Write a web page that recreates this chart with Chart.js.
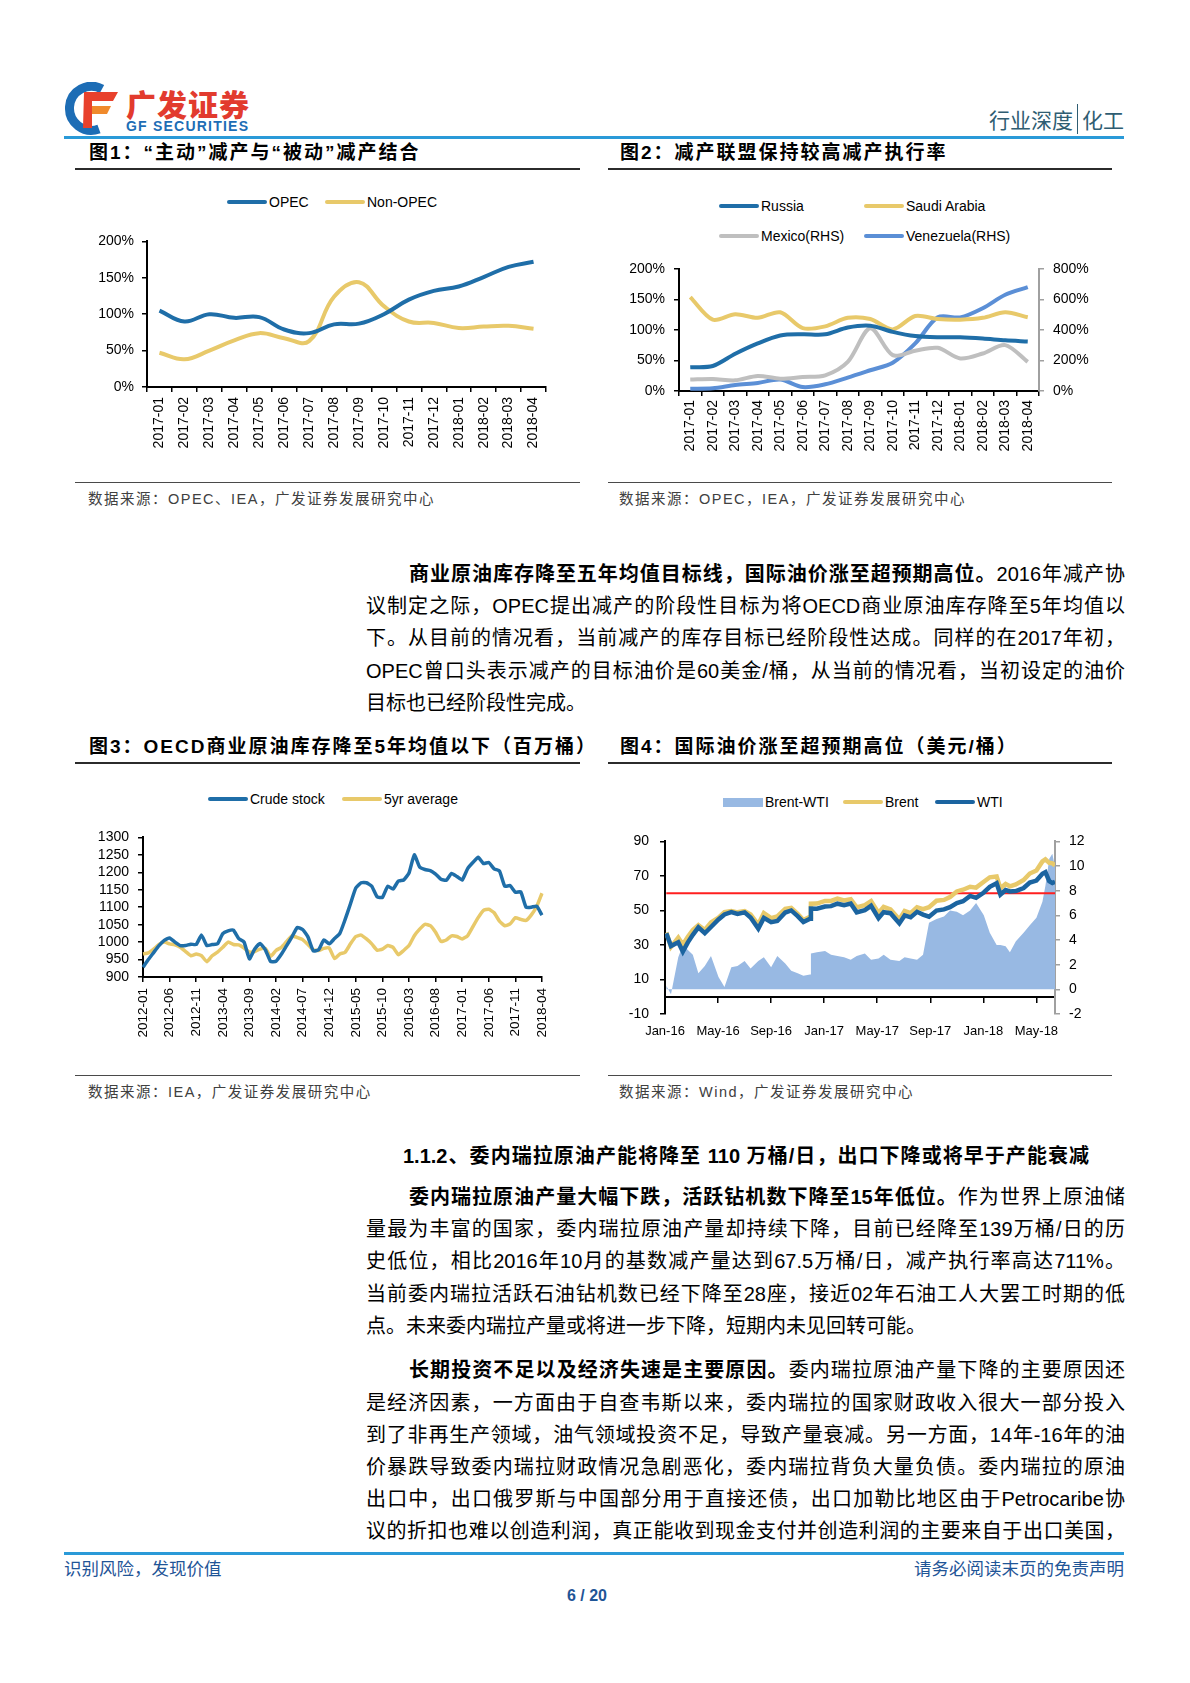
<!DOCTYPE html>
<html lang="zh-CN">
<head>
<meta charset="utf-8">
<title>行业深度 | 化工</title>
<script src="https://cdn.jsdelivr.net/npm/chart.js@4.4.1/dist/chart.umd.min.js"></script>
<style>
  html, body { margin: 0; padding: 0; background: #fff; }
  #page { position: relative; width: 1190px; height: 1683px; overflow: hidden; color: #000;
          font-family: "Liberation Sans", Arial, "Noto Sans CJK SC", sans-serif; }
  .abs { position: absolute; }
  .blue-rule { position: absolute; left: 64px; width: 1060px; height: 3px; background: #2a9ad8; }
  .fig-title { position: absolute; font-size: 19px; font-weight: 700; letter-spacing: 2px; line-height: 24px; white-space: nowrap; }
  .fig-rule { position: absolute; height: 2px; background: #2b2b2b; }
  .src-rule { position: absolute; height: 1px; background: #4a4a4a; }
  .src { position: absolute; font-size: 14.5px; letter-spacing: 1.5px; color: #404040; line-height: 20px; white-space: nowrap; }
  .legend-text { position: absolute; font-family: "Liberation Sans Narrow", "Arial Narrow", "Liberation Sans", Arial, sans-serif;
                 font-size: 14px; line-height: 20px; white-space: nowrap; }
  .line { position: absolute; left: 366px; width: 759px; height: 32px; line-height: 32px; font-size: 20px;
          text-align: justify; text-align-last: justify; }
  .line.first { padding-left: 43px; width: 716px; }
  .line.last { text-align-last: left; }
  .foot { position: absolute; font-size: 17.5px; color: #1f5597; line-height: 22px; white-space: nowrap; }
</style>
</head>
<body>
<div id="page">
  <!-- header -->
  <svg class="abs" style="left:62px;top:82px" width="192" height="56" viewBox="0 0 192 56">
    <path d="M40 7 A22 22 0 1 0 37 47" fill="none" stroke="#1d6db5" stroke-width="9"/>
    <path d="M22 10 L56 10 L51 19 L30 19 L30 46 L21 46 Z" fill="#e8412c"/>
    <path d="M30 24 L49 24 L45 32 L30 32 Z" fill="#f08a2c"/>
    <text x="64" y="34" font-size="30" font-weight="900" fill="#e23b2e" textLength="123"
          font-family="Noto Sans CJK SC">广发证券</text>
    <text x="64" y="49" font-size="14" font-weight="700" fill="#1d6db5" textLength="122"
          font-family="Liberation Sans, Arial">GF SECURITIES</text>
  </svg>
  <div class="abs" style="right:66px;top:106px;font-size:21px;line-height:26px;color:#2f5d72;font-family:'Noto Sans CJK SC';">
    行业深度<span style="border-left:1.5px solid #2f5d72;margin:0 4px;"></span>化工</div>
  <div class="blue-rule" style="top:136px"></div>

  <div class="fig-title" style="left:89px;top:141px">图1：“主动”减产与“被动”减产结合</div>
  <div class="fig-title" style="left:620px;top:141px">图2：减产联盟保持较高减产执行率</div>
  <div class="fig-rule" style="left:75px;top:168px;width:505px"></div>
  <div class="fig-rule" style="left:608px;top:168px;width:504px"></div>

  <canvas id="chartOpec" class="abs" style="left:75px;top:225px" width="505" height="240"></canvas>
  <canvas id="chartAlliance" class="abs" style="left:606px;top:250px" width="510" height="215"></canvas>

  <div class="src-rule" style="left:75px;top:482px;width:505px"></div>
  <div class="src-rule" style="left:608px;top:482px;width:504px"></div>
  <div class="src" style="left:88px;top:489px">数据来源：OPEC、IEA，广发证券发展研究中心</div>
  <div class="src" style="left:619px;top:489px">数据来源：OPEC，IEA，广发证券发展研究中心</div>

  <div class="line first" style="top:558px"><b>商业原油库存降至五年均值目标线，国际油价涨至超预期高位。</b>2016年减产协</div>
  <div class="line" style="top:590px">议制定之际，OPEC提出减产的阶段性目标为将OECD商业原油库存降至5年均值以</div>
  <div class="line" style="top:622px">下。从目前的情况看，当前减产的库存目标已经阶段性达成。同样的在2017年初，</div>
  <div class="line" style="top:655px">OPEC曾口头表示减产的目标油价是60美金/桶，从当前的情况看，当初设定的油价</div>
  <div class="line last" style="top:687px">目标也已经阶段性完成。</div>

  <div class="fig-title" style="left:89px;top:735px">图3：OECD商业原油库存降至5年均值以下（百万桶）</div>
  <div class="fig-title" style="left:620px;top:735px">图4：国际油价涨至超预期高位（美元/桶）</div>
  <div class="fig-rule" style="left:75px;top:762px;width:505px"></div>
  <div class="fig-rule" style="left:608px;top:762px;width:504px"></div>

  <canvas id="chartStock" class="abs" style="left:75px;top:820px" width="505" height="240"></canvas>
  <canvas id="chartPrice" class="abs" style="left:606px;top:822px" width="510" height="228"></canvas>

  <div class="src-rule" style="left:75px;top:1075px;width:505px"></div>
  <div class="src-rule" style="left:608px;top:1075px;width:504px"></div>
  <div class="src" style="left:88px;top:1082px">数据来源：IEA，广发证券发展研究中心</div>
  <div class="src" style="left:619px;top:1082px">数据来源：Wind，广发证券发展研究中心</div>

  <div class="line" style="left:403px;width:686px;top:1140px;font-weight:700">1.1.2、委内瑞拉原油产能将降至 110 万桶/日，出口下降或将早于产能衰减</div>

  <div class="line first" style="top:1181px"><b>委内瑞拉原油产量大幅下跌，活跃钻机数下降至15年低位。</b>作为世界上原油储</div>
  <div class="line" style="top:1213px">量最为丰富的国家，委内瑞拉原油产量却持续下降，目前已经降至139万桶/日的历</div>
  <div class="line" style="top:1245px">史低位，相比2016年10月的基数减产量达到67.5万桶/日，减产执行率高达711%。</div>
  <div class="line" style="top:1278px">当前委内瑞拉活跃石油钻机数已经下降至28座，接近02年石油工人大罢工时期的低</div>
  <div class="line last" style="top:1310px">点。未来委内瑞拉产量或将进一步下降，短期内未见回转可能。</div>

  <div class="line first" style="top:1354px"><b>长期投资不足以及经济失速是主要原因。</b>委内瑞拉原油产量下降的主要原因还</div>
  <div class="line" style="top:1387px">是经济因素，一方面由于自查韦斯以来，委内瑞拉的国家财政收入很大一部分投入</div>
  <div class="line" style="top:1419px">到了非再生产领域，油气领域投资不足，导致产量衰减。另一方面，14年-16年的油</div>
  <div class="line" style="top:1451px">价暴跌导致委内瑞拉财政情况急剧恶化，委内瑞拉背负大量负债。委内瑞拉的原油</div>
  <div class="line" style="top:1483px">出口中，出口俄罗斯与中国部分用于直接还债，出口加勒比地区由于Petrocaribe协</div>
  <div class="line" style="top:1515px">议的折扣也难以创造利润，真正能收到现金支付并创造利润的主要来自于出口美国，</div>

  <!-- footer -->
  <div class="blue-rule" style="top:1552px"></div>
  <div class="foot" style="left:64px;top:1558px">识别风险，发现价值</div>
  <div class="foot" style="right:66px;top:1558px">请务必阅读末页的免责声明</div>
  <div class="foot" style="left:0;width:1174px;text-align:center;top:1585px;font-weight:700;font-size:16px">6 / 20</div>
</div>

<script>
// ---------- data ----------
const opecMonths = ['2017-01', '2017-02', '2017-03', '2017-04', '2017-05', '2017-06', '2017-07', '2017-08',
    '2017-09', '2017-10', '2017-11', '2017-12', '2018-01', '2018-02', '2018-03', '2018-04'];
const opecRate = [105, 90, 100, 95, 96, 79, 74, 86, 87, 100, 120, 132, 138, 151, 165, 172];
const nonOpecRate = [47, 38, 50, 64, 74, 67, 63, 124, 144, 111, 90, 88, 81, 83, 84, 80];

const russiaRate = [39, 41, 61, 78, 91, 93, 93, 104, 107, 97, 90, 88, 88, 86, 83, 81];
const saudiRate = [154, 117, 126, 120, 129, 103, 106, 120, 118, 101, 123, 118, 117, 120, 129, 121];
const mexicoRate = [75, 79, 70, 99, 81, 92, 103, 191, 411, 235, 264, 283, 213, 246, 301, 191];
const venezuelaRate = [15, 18, 40, 53, 75, 26, 44, 88, 136, 185, 312, 483, 483, 543, 631, 681];

const stockMonths = [
    '2012-01', '2012-02', '2012-03', '2012-04', '2012-05', '2012-06', '2012-07', '2012-08', '2012-09', '2012-10', '2012-11', '2012-12',
    '2013-01', '2013-02', '2013-03', '2013-04', '2013-05', '2013-06', '2013-07', '2013-08', '2013-09', '2013-10', '2013-11', '2013-12',
    '2014-01', '2014-02', '2014-03', '2014-04', '2014-05', '2014-06', '2014-07', '2014-08', '2014-09', '2014-10', '2014-11', '2014-12',
    '2015-01', '2015-02', '2015-03', '2015-04', '2015-05', '2015-06', '2015-07', '2015-08', '2015-09', '2015-10', '2015-11', '2015-12',
    '2016-01', '2016-02', '2016-03', '2016-04', '2016-05', '2016-06', '2016-07', '2016-08', '2016-09', '2016-10', '2016-11', '2016-12',
    '2017-01', '2017-02', '2017-03', '2017-04', '2017-05', '2017-06', '2017-07', '2017-08', '2017-09', '2017-10', '2017-11', '2017-12',
    '2018-01', '2018-02', '2018-03', '2018-04'];
const crudeStock = [
    928, 950, 970, 990, 1005, 1012, 1000, 990, 990, 994, 993, 1020,
    990, 993, 995, 1024, 1032, 1034, 1010, 1000, 952, 980, 996, 978,
    944, 945, 965, 990, 1015, 1042, 1036, 1015, 975, 978, 1006, 995,
    1010, 1025, 1065, 1110, 1155, 1170, 1170, 1160, 1130, 1128, 1160, 1152,
    1175, 1178, 1198, 1250, 1215, 1208, 1205, 1195, 1180, 1177, 1197, 1188,
    1178, 1210, 1228, 1243, 1225, 1228, 1210, 1204, 1160, 1162, 1143, 1144,
    1100, 1100, 1103, 1077];
const fiveYearAvg = [
    966, 969, 980, 993, 1000, 995, 992, 985, 973, 961, 966, 961,
    944, 961, 971, 985, 1000, 993, 992, 983, 971, 973, 980, 982,
    959, 976, 985, 1002, 1018, 1013, 1007, 993, 978, 976, 982, 983,
    953, 966, 971, 995, 1016, 1020, 1009, 995, 977, 980, 990, 985,
    964, 976, 990, 1018, 1037, 1051, 1047, 1028, 1002, 1006, 1018, 1016,
    1009, 1018, 1044, 1070, 1091, 1094, 1084, 1060, 1047, 1052, 1070, 1065,
    1062, 1078, 1102, 1140];
const stockTickEvery = 5;

const oilDates = [
    '2016-01-04', '2016-01-15', '2016-02-01', '2016-02-11', '2016-02-22', '2016-03-04', '2016-03-17', '2016-04-01',
    '2016-04-15', '2016-05-02', '2016-05-16', '2016-06-01', '2016-06-15', '2016-07-01', '2016-07-15', '2016-08-02',
    '2016-08-15', '2016-09-01', '2016-09-15', '2016-10-03', '2016-10-17', '2016-11-01', '2016-11-14', '2016-11-29',
    '2016-12-01', '2016-12-15',
    '2017-01-03', '2017-01-17', '2017-02-01', '2017-02-15', '2017-03-01', '2017-03-15', '2017-04-03', '2017-04-17',
    '2017-05-04', '2017-05-16', '2017-06-01', '2017-06-21', '2017-07-03', '2017-07-17', '2017-08-01', '2017-08-15',
    '2017-08-29', '2017-09-15', '2017-10-02', '2017-10-16', '2017-11-01', '2017-11-15', '2017-12-01', '2017-12-15',
    '2018-01-02', '2018-01-16', '2018-02-01', '2018-02-09', '2018-02-20', '2018-03-01', '2018-03-15', '2018-04-02',
    '2018-04-16', '2018-05-01', '2018-05-15', '2018-05-22', '2018-05-31', '2018-06-07', '2018-06-13'];
const brentPrice = [
    37.2, 28.9, 34.2, 30.1, 34.7, 38.7, 41.5, 38.7, 43.1, 45.8, 49.0, 49.7, 48.9, 49.6, 47.6, 41.8,
    48.4, 45.5, 46.6, 50.9, 51.5, 48.1, 44.4, 46.4, 53.9, 54.0,
    55.5, 55.5, 56.8, 55.8, 56.5, 51.8, 53.1, 55.4, 48.5, 52.0, 50.6, 44.8, 49.7, 48.4, 51.8, 50.8,
    51.9, 55.6, 56.1, 57.8, 61.0, 62.0, 63.7, 63.2,
    66.6, 69.2, 69.7, 62.8, 65.3, 64.0, 65.1, 67.6, 71.4, 73.1, 78.4, 79.6, 77.6, 77.3, 76.0];
const wtiPrice = [
    36.8, 29.4, 31.6, 26.2, 31.5, 35.9, 40.2, 36.8, 40.4, 44.8, 47.7, 49.0, 48.0, 48.9, 45.9, 39.5,
    45.7, 43.2, 43.9, 48.8, 50.0, 46.7, 43.3, 45.2, 51.1, 51.0,
    52.3, 52.5, 53.9, 53.1, 54.0, 48.9, 50.2, 52.7, 45.5, 49.0, 48.4, 42.5, 47.1, 46.0, 49.2, 47.6,
    46.4, 49.9, 50.6, 51.9, 54.3, 55.3, 58.4, 57.3,
    60.4, 63.7, 65.8, 59.2, 61.8, 61.0, 61.2, 63.0, 66.2, 67.3, 71.3, 72.2, 67.0, 65.9, 66.6];
const brentWtiSpread = [
    0.3, -0.4, 2.6, 3.6, 3.2, 2.8, 1.3, 1.9, 2.7, 1.0, 0.2, 1.8, 1.9, 2.3, 1.7, 2.3,
    2.6, 1.8, 2.7, 2.1, 1.5, 1.3, 1.1, 1.2, 2.9, 3.0,
    3.1, 2.8, 2.7, 2.6, 2.4, 2.7, 2.9, 2.4, 2.5, 2.8, 2.4, 2.3, 2.6, 2.5, 2.4, 2.8,
    5.4, 5.7, 5.9, 6.4, 6.3, 6.0, 6.4, 7.0,
    6.0, 4.6, 3.6, 3.6, 3.5, 3.0, 3.9, 4.6, 5.2, 5.8, 7.1, 8.4, 10.6, 11.0, 9.9];
const targetPrice = 60;
const priceTickDates = ['2016-01-01', '2016-05-01', '2016-09-01', '2017-01-01', '2017-05-01', '2017-09-01', '2018-01-01', '2018-05-01'];
const priceTickLabels = ['Jan-16', 'May-16', 'Sep-16', 'Jan-17', 'May-17', 'Sep-17', 'Jan-18', 'May-18'];

// ---------- styles ----------
const DARK_BLUE = '#1f6ea8';
const YELLOW = '#e8c96a';
const GRAY = '#bfbfbf';
const LIGHT_BLUE = '#5b8fd6';
const AREA_BLUE = '#98b9e3';
const RED = '#ff1f1f';
const AXIS_GRAY = '#a0a0a0';

Chart.defaults.font.family = '"Liberation Sans Narrow", "Arial Narrow", "Liberation Sans", Arial, sans-serif';
Chart.defaults.color = '#000';
Chart.defaults.animation = false;
Chart.defaults.responsive = false;
Chart.defaults.devicePixelRatio = 1;
Chart.defaults.plugins.legend.display = false;
Chart.defaults.plugins.tooltip.enabled = false;
Chart.defaults.elements.point.radius = 0;

const pct = v => v + '%';
const plain = v => String(v);

function valueAxis(o) {
    return {
        position: o.position || 'left',
        min: o.min,
        max: o.max,
        border: { display: true, color: o.color || '#000', width: 2 },
        grid: { drawOnChartArea: false, color: o.color || '#000', tickLength: 5, lineWidth: 1.5 },
        ticks: { stepSize: o.step, padding: o.pad, autoSkip: false, font: { size: o.size }, callback: o.format || plain },
        afterFit: scale => { scale.width = o.width; }
    };
}

function monthAxis(o) {
    const ticks = { autoSkip: false, minRotation: 90, maxRotation: 90, padding: o.pad, font: { size: o.size } };
    if (o.callback) ticks.callback = o.callback;
    return {
        type: 'category',
        offset: o.offset,
        border: { display: true, color: '#000', width: 2 },
        grid: { drawOnChartArea: false, offset: o.offset, color: '#000', tickLength: 5, lineWidth: 1.5 },
        ticks,
        afterFit: scale => { scale.height = o.height; }
    };
}

function lineSet(label, data, color, extra) {
    return Object.assign({ label, data, borderColor: color, backgroundColor: color, borderWidth: 4, fill: false, tension: 0 }, extra);
}

function addLegend(items) {
    const page = document.getElementById('page');
    items.forEach(it => {
        const h = it.box ? 9 : 4;
        const mark = document.createElement('div');
        mark.className = 'abs';
        mark.style.cssText = `left:${it.x}px;top:${it.y - h / 2}px;width:40px;height:${h}px;background:${it.color};border-radius:${it.box ? 0 : 2}px`;
        const txt = document.createElement('div');
        txt.className = 'legend-text';
        txt.style.left = (it.x + 42) + 'px';
        txt.style.top = (it.y - 10) + 'px';
        txt.textContent = it.label;
        page.append(mark, txt);
    });
}

function monthPos(date) {
    const [y, m, d] = date.split('-').map(Number);
    const days = new Date(y, m, 0).getDate();
    return (y - 2016) * 12 + (m - 1) + (d - 1) / days;
}

// ---------- chart 1 ----------
function createOpecChart() {
    new Chart(document.getElementById('chartOpec'), {
        type: 'line',
        data: {
            labels: opecMonths,
            datasets: [
                lineSet('OPEC', opecRate, DARK_BLUE, { tension: 0.4 }),
                lineSet('Non-OPEC', nonOpecRate, YELLOW, { tension: 0.4 })
            ]
        },
        options: {
            layout: { padding: { top: 14, right: 34, bottom: 0, left: 0 } },
            scales: {
                x: monthAxis({ offset: true, pad: 5, size: 14, height: 78 }),
                y: valueAxis({ min: 0, max: 200, step: 50, pad: 8, size: 14, width: 72, format: pct })
            }
        }
    });
    addLegend([
        { x: 227, y: 202, color: DARK_BLUE, label: 'OPEC' },
        { x: 325, y: 202, color: YELLOW, label: 'Non-OPEC' }
    ]);
}

// ---------- chart 2 ----------
function createAllianceChart() {
    new Chart(document.getElementById('chartAlliance'), {
        type: 'line',
        data: {
            labels: opecMonths,
            datasets: [
                lineSet('Russia', russiaRate, DARK_BLUE, { tension: 0.3 }),
                lineSet('Saudi Arabia', saudiRate, YELLOW, { tension: 0.3 }),
                lineSet('Mexico(RHS)', mexicoRate, GRAY, { tension: 0.3, yAxisID: 'y1' }),
                lineSet('Venezuela(RHS)', venezuelaRate, LIGHT_BLUE, { tension: 0.3, yAxisID: 'y1' })
            ]
        },
        options: {
            layout: { padding: { top: 19, right: 0, bottom: 0, left: 0 } },
            scales: {
                x: monthAxis({ offset: true, pad: 4, size: 14, height: 74 }),
                y: valueAxis({ min: 0, max: 200, step: 50, pad: 9, size: 14, width: 73, format: pct }),
                y1: valueAxis({ position: 'right', min: 0, max: 800, step: 200, pad: 9, size: 14, width: 77, format: pct, color: AXIS_GRAY })
            }
        }
    });
    addLegend([
        { x: 719, y: 206, color: DARK_BLUE, label: 'Russia' },
        { x: 864, y: 206, color: YELLOW, label: 'Saudi Arabia' },
        { x: 719, y: 236, color: GRAY, label: 'Mexico(RHS)' },
        { x: 864, y: 236, color: LIGHT_BLUE, label: 'Venezuela(RHS)' }
    ]);
}

// ---------- chart 3 ----------
function createStockChart() {
    new Chart(document.getElementById('chartStock'), {
        type: 'line',
        data: {
            labels: stockMonths,
            datasets: [
                lineSet('Crude stock', crudeStock, DARK_BLUE, { borderWidth: 3.5, tension: 0.15 }),
                lineSet('5yr average', fiveYearAvg, YELLOW, { borderWidth: 3.5, tension: 0.15 })
            ]
        },
        options: {
            layout: { padding: { top: 16, right: 38, bottom: 0, left: 0 } },
            scales: {
                x: monthAxis({
                    offset: false, pad: 6, size: 13.5, height: 83,
                    callback: (v, i) => (i % stockTickEvery === 0 ? stockMonths[i] : null)
                }),
                y: valueAxis({ min: 900, max: 1300, step: 50, pad: 9, size: 14, width: 68 })
            }
        }
    });
    addLegend([
        { x: 208, y: 799, color: DARK_BLUE, label: 'Crude stock' },
        { x: 342, y: 799, color: YELLOW, label: '5yr average' }
    ]);
}

// ---------- chart 4 ----------
function createPriceChart() {
    const pts = values => oilDates.map((d, i) => ({ x: monthPos(d), y: values[i] }));
    const first = monthPos(oilDates[0]);
    const last = monthPos(oilDates[oilDates.length - 1]);

    new Chart(document.getElementById('chartPrice'), {
        type: 'line',
        data: {
            datasets: [
                { label: 'Brent-WTI', data: pts(brentWtiSpread), yAxisID: 'y1', fill: 'origin',
                  backgroundColor: AREA_BLUE, borderWidth: 0, order: 4 },
                lineSet('60', [{ x: first, y: targetPrice }, { x: last, y: targetPrice }], RED, { borderWidth: 2, order: 3 }),
                lineSet('Brent', pts(brentPrice), YELLOW, { borderWidth: 4.5, order: 2 }),
                lineSet('WTI', pts(wtiPrice), '#1b64a0', { borderWidth: 4.5, order: 1 })
            ]
        },
        options: {
            layout: { padding: { top: 16, right: 0, bottom: 36, left: 0 } },
            scales: {
                x: {
                    type: 'linear',
                    position: { y: 0 },
                    min: monthPos(priceTickDates[0]),
                    max: last,
                    afterBuildTicks: scale => { scale.ticks = priceTickDates.map(d => ({ value: monthPos(d) })); },
                    border: { display: true, color: '#000', width: 2 },
                    grid: { drawOnChartArea: false, color: '#000', tickLength: 5, lineWidth: 1.5 },
                    ticks: { maxRotation: 0, autoSkip: false, padding: 22, font: { size: 13 }, callback: (v, i) => priceTickLabels[i] }
                },
                y: valueAxis({ min: -10, max: 90, step: 20, pad: 11, size: 14, width: 59 }),
                y1: valueAxis({ position: 'right', min: -2, max: 12, step: 2, pad: 9, size: 14, width: 61, color: AXIS_GRAY })
            }
        }
    });
    addLegend([
        { x: 723, y: 802, color: AREA_BLUE, label: 'Brent-WTI', box: true },
        { x: 843, y: 802, color: YELLOW, label: 'Brent' },
        { x: 935, y: 802, color: '#1b64a0', label: 'WTI' }
    ]);
}

createOpecChart();
createAllianceChart();
createStockChart();
createPriceChart();
</script>
</body>
</html>
